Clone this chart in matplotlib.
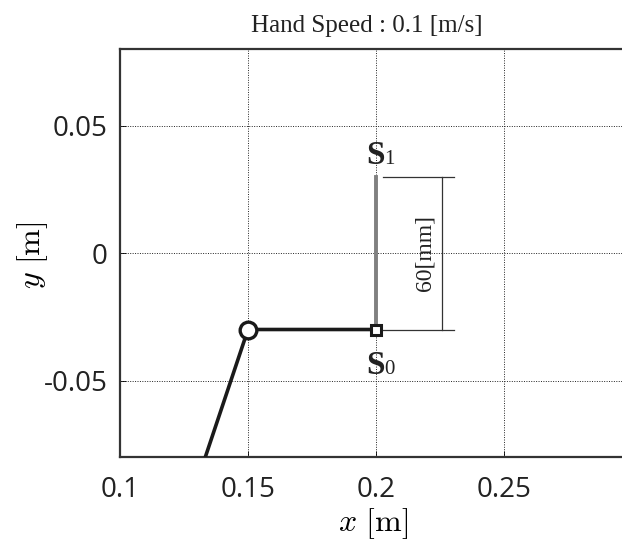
import numpy as np
import matplotlib
matplotlib.use('Agg')
import matplotlib.pyplot as plt

# Arm configuration (shoulder -> elbow -> hand)
arm_x = [0.12, 0.15, 0.2]
arm_y = [-0.12, -0.03, -0.03]
# Hand trajectory S0 -> S1
traj_x = [0.2, 0.2]
traj_y = [-0.03, 0.03]
x_ticks = [0.1, 0.15, 0.2, 0.25]
y_ticks = [-0.05, 0, 0.05]
tick_labels_x = ['0.1', '0.15', '0.2', '0.25']
tick_labels_y = ['-0.05', '0', '0.05']

plt.rcParams['mathtext.fontset'] = 'cm'

fig = plt.figure(figsize=(6.22, 5.41), dpi=100)
ax = fig.add_axes([120/622, 84/541, 512/622, 408/541])

# Trajectory (gray) and arm (black)
ax.plot(traj_x, traj_y, color='#808080', lw=2.8, zorder=3)
ax.plot(arm_x, arm_y, color='#1a1a1a', lw=2.6, zorder=4)
ax.plot(arm_x[1], arm_y[1], 'o', ms=12, mfc='white', mec='#1a1a1a', mew=2.4, zorder=5)
ax.plot(arm_x[2], arm_y[2], 's', ms=7, mfc='white', mec='#1a1a1a', mew=2.2, zorder=5)

# Dimension lines for 60 mm
for yy in traj_y:
	ax.plot([0.2027, 0.2305], [yy, yy], color='#333333', lw=0.9, zorder=2)
ax.plot([0.2258, 0.2258], traj_y, color='#333333', lw=0.9, zorder=2)
ax.text(0.2193, 0.0, '60[mm]', rotation=90, ha='center', va='center',
	fontsize=17, family='Liberation Serif', color='#222222')

# Start / goal labels
serif = 'Liberation Serif'
ax.text(0.2, 0.0348, 'S', fontsize=24, weight='bold', family=serif,
	ha='center', va='baseline', color='#222222')
ax.text(0.2033, 0.0348, '1', fontsize=15, family=serif,
	ha='left', va='baseline', color='#222222')
ax.text(0.2, -0.0473, 'S', fontsize=24, weight='bold', family=serif,
	ha='center', va='baseline', color='#222222')
ax.text(0.2033, -0.0473, '0', fontsize=15, family=serif,
	ha='left', va='baseline', color='#222222')

ax.set_xlim(0.1, 0.3)
ax.set_ylim(-0.08, 0.08)
ax.set_xticks(x_ticks)
ax.set_xticklabels(tick_labels_x)
ax.set_yticks(y_ticks)
ax.set_yticklabels(tick_labels_y)
ax.tick_params(direction='in', length=4, width=0.6, labelsize=20)
ax.tick_params(axis='x', pad=14)
ax.tick_params(axis='y', pad=9)
for lab in ax.get_xticklabels() + ax.get_yticklabels():
	lab.set_family('Open Sans')
	lab.set_color('#222222')
ax.grid(True, color='#222222', linestyle=(0, (1, 1.5)), lw=0.7)
for s in ['top', 'bottom', 'left', 'right']:
	ax.spines[s].set_linewidth(1.6)
	ax.spines[s].set_color('#333333')

ax.set_xlabel(r'$x\ [\mathrm{m}]$', fontsize=23)
ax.xaxis.label.set_va('center')
ax.xaxis.set_label_coords(0.494, -0.163)
ax.set_ylabel(r'$y\ [\mathrm{m}]$', fontsize=23)
ax.yaxis.label.set_va('center')
ax.yaxis.set_label_coords(-0.17, 0.495)
fig.text(367/622, 1 - 26/541, 'Hand Speed : 0.1 [m/s]', ha='center', va='center',
	fontsize=18, family='Liberation Serif', color='#222222')

fig.savefig('out.png', dpi=100)
